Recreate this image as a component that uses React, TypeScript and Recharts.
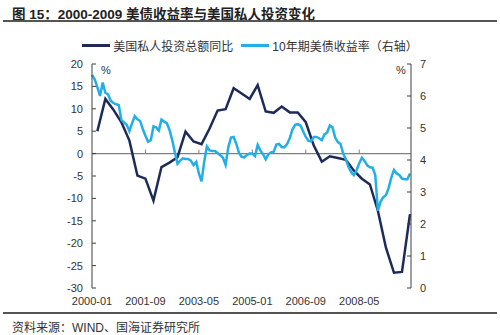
import React from 'react'
import { ComposedChart, Line, XAxis, YAxis, ReferenceLine } from 'recharts'

const years = ['2000', '2001', '2002', '2003', '2004', '2005', '2006', '2007', '2008', '2009']
const months = ['01', '02', '03', '04', '05', '06', '07', '08', '09', '10', '11', '12']
const categories = years.flatMap((y) => months.map((m) => `${y}-${m}`))

// 美国私人投资总额同比 (%), quarterly, plotted at quarter-end months
const investYoY = [
  5.0, 12.2, 9.8, 7.0,
  2.9, -4.9, -5.6, -10.5,
  -3.0, -2.0, -0.8, 4.9,
  2.7, 2.1, 5.6, 9.6,
  9.9, 14.6, 13.4, 12.2,
  15.3, 9.4, 9.1, 10.5,
  9.2, 9.2, 7.0, 1.8,
  -1.8, -0.6, -1.0, -1.4,
  -3.8, -5.6, -6.9, -12.8,
  -21.0, -26.6, -26.4, -13.5,
]

// 10年期美债收益率 (%), monthly
const yield10y = [
  6.66, 6.52, 6.28, 6.0, 6.42, 6.1, 6.05, 5.85, 5.78, 5.74, 5.72, 5.25,
  5.17, 5.1, 4.9, 5.15, 5.37, 5.27, 5.22, 4.97, 4.76, 4.57, 4.62, 5.05,
  5.02, 4.92, 5.26, 5.2, 5.15, 4.94, 4.63, 4.24, 3.88, 3.98, 4.05, 4.03,
  4.03, 3.98, 3.84, 3.94, 3.58, 3.33, 3.95, 4.42, 4.3, 4.28, 4.28, 4.22,
  4.15, 4.07, 3.85, 4.4, 4.7, 4.72, 4.5, 4.22, 4.1, 4.08, 4.16, 4.2,
  4.2, 4.12, 4.47, 4.3, 4.18, 4.02, 4.18, 4.24, 4.26, 4.48, 4.5, 4.4,
  4.4, 4.5, 4.68, 4.95, 5.1, 5.12, 5.08, 4.9, 4.72, 4.6, 4.58, 4.72,
  4.72, 4.68, 4.62, 4.8, 4.86, 5.08, 5.02, 4.7, 4.56, 4.5, 4.2, 4.02,
  3.78, 3.62, 3.53, 3.68, 3.9, 4.07, 3.97, 3.83, 3.77, 3.76, 3.53, 2.42,
  2.7, 2.84, 2.9, 3.12, 3.45, 3.69, 3.58, 3.53, 3.42, 3.4, 3.4, 3.58,
]

const xTicks = ['2000-01', '2001-09', '2003-05', '2005-01', '2006-09', '2008-05']
const leftTicks = [-30, -25, -20, -15, -10, -5, 0, 5, 10, 15, 20]
const rightTicks = [0, 1, 2, 3, 4, 5, 6, 7]

const data = categories.map((name, i) => ({
  name,
  invest: i % 3 === 2 ? investYoY[(i - 2) / 3] : null,
  yield: yield10y[i],
}))

const DARK = '#1C2B5A'
const LIGHT = '#22AEE6'
const FONT = '"Liberation Sans", Arial, "Noto Sans CJK SC", sans-serif'

const series = [
  { key: 'invest', name: '美国私人投资总额同比', color: DARK, axis: 'left' },
  { key: 'yield', name: '10年期美债收益率（右轴）', color: LIGHT, axis: 'right' },
]

export default function App() {
  const axisTick = { fontSize: 11, fill: '#333', fontFamily: FONT }
  return (
    <div style={{ position: 'absolute', left: 0, top: 0, width: 500, height: 335, background: '#fff', fontFamily: FONT }}>
      <div style={{ position: 'absolute', left: 12, top: 3, fontSize: 13.5, fontWeight: 'bold', color: '#222', whiteSpace: 'nowrap' }}>
        图 15：2000-2009 美债收益率与美国私人投资变化
      </div>
      <div style={{ position: 'absolute', left: 3, top: 20, width: 494, height: 1.5, background: '#555' }} />

      {/* legend */}
      <div style={{ position: 'absolute', left: 0, top: 37, width: 500, display: 'flex', justifyContent: 'center', alignItems: 'center', fontSize: 12, color: '#333' }}>
        {series.map((s, i) => (
          <div key={s.key} style={{ display: 'flex', alignItems: 'center', marginLeft: i ? 8 : 0 }}>
            <span style={{ display: 'inline-block', width: 28, height: 3, background: s.color, marginRight: 3 }} />
            <span>{s.name}</span>
          </div>
        ))}
      </div>

      <ComposedChart width={500} height={335} data={data} margin={{ top: 64, right: 0, bottom: 17, left: 0 }}>
        <XAxis
          dataKey="name"
          ticks={xTicks}
          interval={0}
          axisLine={false}
          tickLine={false}
          tickSize={0}
          tickMargin={9}
          height={30}
          padding={{ left: 0, right: 1 }}
          tick={axisTick}
        />
        <YAxis
          yAxisId="left"
          domain={[-30, 20]}
          ticks={leftTicks}
          interval={0}
          width={92}
          tickSize={-4}
          tickMargin={13}
          axisLine={{ stroke: '#404040' }}
          tickLine={{ stroke: '#404040' }}
          tick={axisTick}
        />
        <YAxis
          yAxisId="right"
          orientation="right"
          domain={[0, 7]}
          ticks={rightTicks}
          interval={0}
          width={89}
          tickSize={-4}
          tickMargin={13}
          axisLine={{ stroke: '#404040' }}
          tickLine={{ stroke: '#404040' }}
          tick={{ ...axisTick, textAnchor: 'start' }}
        />
        <ReferenceLine yAxisId="left" y={0} stroke="#808080" strokeWidth={1.2} />
        {xTicks.slice(1).map((t) => (
          <ReferenceLine
            key={t}
            yAxisId="left"
            segment={[{ x: t, y: 0 }, { x: t, y: 0.9 }]}
            stroke="#808080"
          />
        ))}
        {series.map((s) => (
          <Line
            key={s.key}
            yAxisId={s.axis}
            name={s.name}
            dataKey={s.key}
            stroke={s.color}
            strokeWidth={2.5}
            dot={false}
            connectNulls
            isAnimationActive={false}
          />
        ))}
      </ComposedChart>

      <div style={{ position: 'absolute', left: 101, top: 64, fontSize: 11, color: '#333' }}>%</div>
      <div style={{ position: 'absolute', left: 396, top: 64, fontSize: 11, color: '#333' }}>%</div>

      <div style={{ position: 'absolute', left: 3, top: 312, width: 494, height: 1.5, background: '#555' }} />
      <div style={{ position: 'absolute', left: 12, top: 318, fontSize: 12, color: '#333', whiteSpace: 'nowrap' }}>
        资料来源：WIND、国海证券研究所
      </div>
    </div>
  )
}
